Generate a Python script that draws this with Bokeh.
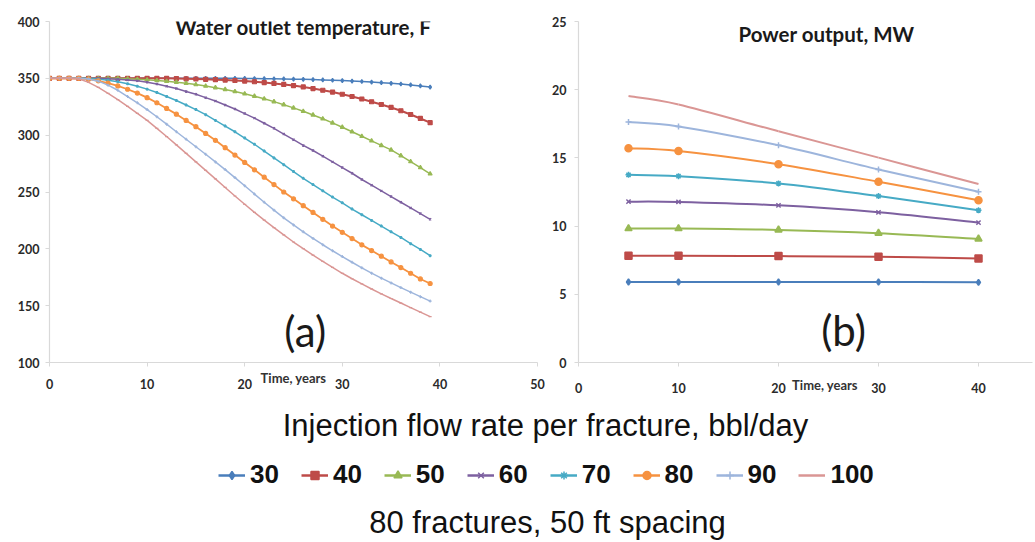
import numpy as np
from bokeh.plotting import figure
from bokeh.models import Range1d, FixedTicker, Label, Legend, LegendItem, ColumnDataSource
from bokeh.layouts import column, row
from bokeh.embed import file_html
from bokeh.resources import INLINE

# ---------------- data ----------------
flow_rates = ["30", "40", "50", "60", "70", "80", "90", "100"]

years = [0, 1, 2, 3, 4, 5, 6, 7, 8, 9, 10, 11, 12, 13, 14, 15, 16, 17, 18, 19,
         20, 21, 22, 23, 24, 25, 26, 27, 28, 29, 30, 31, 32, 33, 34, 35, 36, 37, 38, 39]

temp_30 = [350, 350, 350, 350, 350, 350, 350, 350, 350, 350,
           350, 350, 350, 350, 350, 350, 350, 350, 350, 350,
           349.9, 349.8, 349.7, 349.6, 349.5, 349.3, 349.1, 348.9, 348.6, 348.3,
           348.0, 347.6, 347.2, 346.7, 346.2, 345.6, 345.0, 344.2, 343.3, 342.3]
temp_40 = [350, 350, 350, 350, 350, 350, 350, 350, 350, 350,
           350, 350, 350, 349.8, 349.6, 349.4, 349.1, 348.8, 348.5, 348.1,
           347.6, 347.0, 346.3, 345.5, 344.6, 343.6, 342.4, 341.0, 339.5, 337.9,
           336.0, 334.0, 331.8, 329.4, 327.0, 324.4, 321.5, 318.2, 314.7, 311.0]
temp_50 = [350, 350, 350, 350, 350, 350, 350, 350, 349.6, 349.2,
           348.7, 348.1, 347.4, 346.6, 345.6, 344.5, 343.2, 341.8, 340.2, 338.4,
           336.4, 334.3, 332.0, 329.5, 326.8, 324.0, 321.0, 317.8, 314.4, 310.8,
           307.0, 303.0, 299.0, 295.0, 291.0, 287.0, 282.0, 276.8, 271.5, 266.0]
temp_60 = [350, 350, 350, 350, 350, 350, 349.6, 349.2, 348.6, 347.8,
           346.6, 345, 343, 341, 338.5, 336, 333, 330, 326.5, 323,
           319, 315, 310.5, 306, 301, 296, 291, 286.5, 281.5, 276.5,
           271.5, 266.5, 261, 256, 251, 246, 241, 236, 231, 226]
temp_70 = [350, 350, 350, 350, 350, 349.3, 348.3, 347, 345.2, 343,
           340.5, 337.5, 334, 330.5, 326.5, 322.5, 318, 313, 308, 303,
           297.5, 292, 286, 280, 274, 268, 262, 256.5, 251, 245.5,
           240.5, 235, 230, 225, 220, 215, 210, 204.5, 199.5, 194]
temp_80 = [350, 350, 350, 350, 349.3, 347.8, 345.8, 343.3, 340.4, 337,
           333, 328.5, 323.5, 318.5, 313, 307.5, 301.5, 295.5, 289, 282.5,
           276, 269.5, 263, 256.5, 250, 244, 238, 232, 226, 220,
           214.5, 209, 203.5, 198.5, 193.5, 188.5, 183.5, 178.5, 173.5, 169.5]
temp_90 = [350, 350, 350, 350, 349.5, 347.5, 344, 339.5, 334, 328.5,
           322.5, 316.2, 309.7, 303, 296.4, 289.8, 283.2, 276.5, 269.7, 262.7,
           255.5, 248.2, 241, 234, 227.3, 221, 215, 209.2, 203.6, 198.3,
           193.2, 188.2, 183.3, 178.6, 174.2, 170, 165.9, 161.9, 157.9, 154]
temp_100 = [350, 350, 350, 349.5, 346.5, 342, 336.8, 331.2, 325.3, 319.2,
            313, 306, 298.8, 291.5, 284, 276.5, 269, 261.5, 254, 246.5,
            239.2, 232.1, 225.2, 218.6, 212.2, 206, 200.1, 194.4, 188.9, 183.6,
            178.5, 173.7, 169.1, 164.7, 160.4, 156.3, 152.3, 148.3, 144.3, 140.3]

power_years = [5, 10, 20, 30, 40]
power_30 = [5.9, 5.9, 5.9, 5.9, 5.88]
power_40 = [7.82, 7.82, 7.8, 7.75, 7.63]
power_50 = [9.82, 9.82, 9.72, 9.48, 9.06]
power_60 = [11.79, 11.77, 11.52, 11.01, 10.26]
power_70 = [13.76, 13.66, 13.13, 12.2, 11.16]
power_80 = [15.71, 15.51, 14.54, 13.25, 11.89]
power_90 = [17.63, 17.31, 15.92, 14.15, 12.52]
power_100 = [19.53, 18.92, 16.95, 15.02, 13.08]

temp_ticks = [100, 150, 200, 250, 300, 350, 400]
temp_x_ticks = [0, 10, 20, 30, 40, 50]
power_ticks = [0, 5, 10, 15, 20, 25]
power_x_ticks = [0, 10, 20, 30, 40]

temps = [temp_30, temp_40, temp_50, temp_60, temp_70, temp_80, temp_90, temp_100]
powers = [power_30, power_40, power_50, power_60, power_70, power_80, power_90, power_100]

# ---------------- styles ----------------
colors = ["#4A7EBB", "#BE4B48", "#98B954", "#7D60A0", "#46AAC5", "#F69240", "#9DB5DC", "#DA9694"]
markers = ["diamond", "square", "triangle", "x", "asterisk", "circle", "cross", "dash"]
left_sizes = [4, 4, 4, 3, 3, 4, 3, 3]
right_sizes = [6, 7, 7, 6, 6, 7, 6, 0]
left_widths = [1.5, 2.0, 1.5, 1.5, 1.5, 1.8, 1.5, 1.5]

AXIS_COLOR = "#D9D9D9"
TICK_FONT = "Lato"


def style_axes(p, yticks, xticks, x_standoff, y_standoff):
    p.xaxis.ticker = FixedTicker(ticks=xticks)
    p.yaxis.ticker = FixedTicker(ticks=yticks)
    for ax in (p.xaxis, p.yaxis):
        ax.axis_line_color = AXIS_COLOR
        ax.axis_line_width = 1.2
        ax.major_tick_line_color = AXIS_COLOR
        ax.major_tick_out = 4
        ax.major_tick_in = 0
        ax.minor_tick_line_color = None
        ax.major_label_text_font = TICK_FONT
        ax.major_label_text_font_style = "bold"
        ax.major_label_text_font_size = "12.5px"
        ax.major_label_text_color = "#2a2a2a"
    p.xaxis.major_label_standoff = x_standoff
    p.yaxis.major_label_standoff = y_standoff
    p.xaxis.axis_label_text_font = "Lato"
    p.xaxis.axis_label_text_font_style = "bold"
    p.xaxis.axis_label_text_font_size = "13px"
    p.xaxis.axis_label_text_color = "#333333"
    p.xgrid.grid_line_color = None
    p.ygrid.grid_line_color = None
    p.outline_line_color = None


def smooth_segments(xs, ys):
    # cubic Bezier segments through the data points (spreadsheet-style smoothed line)
    n = len(xs)
    seg = dict(x0=[], y0=[], x1=[], y1=[], cx0=[], cy0=[], cx1=[], cy1=[])
    for i in range(n - 1):
        xa, ya = xs[max(i - 1, 0)], ys[max(i - 1, 0)]
        xb, yb = xs[i], ys[i]
        xc, yc = xs[i + 1], ys[i + 1]
        xd, yd = xs[min(i + 2, n - 1)], ys[min(i + 2, n - 1)]
        seg["x0"].append(xb); seg["y0"].append(yb)
        seg["x1"].append(xc); seg["y1"].append(yc)
        seg["cx0"].append(xb + (xc - xa) / 6.0); seg["cy0"].append(yb + (yc - ya) / 6.0)
        seg["cx1"].append(xc - (xd - xb) / 6.0); seg["cy1"].append(yc - (yd - yb) / 6.0)
    return seg


# ---------------- left chart: water outlet temperature ----------------
p1 = figure(width=545, height=400, x_range=Range1d(0, 50), y_range=Range1d(100, 400),
            output_backend="svg", toolbar_location=None,
            min_border_left=49, min_border_right=8, min_border_top=19, min_border_bottom=38)
style_axes(p1, temp_ticks, temp_x_ticks, 12, 6)
p1.xaxis.axis_label = "Time, years"
p1.xaxis.axis_label_standoff = -22
for i in range(8):
    p1.line(years, temps[i], color=colors[i], line_width=left_widths[i])
    p1.scatter(years, temps[i], marker=markers[i], size=left_sizes[i],
               color=colors[i], line_width=1.2)

p1.add_layout(Label(x=26.0, y=395, text="Water outlet temperature, F", text_align="center",
                    text_baseline="middle", text_font="Lato", text_font_style="bold",
                    text_font_size="20.5px", text_color="#1a1a1a"))
p1.add_layout(Label(x=26.2, y=128, text="(a)", text_align="center", text_baseline="middle",
                    text_font="Lato", text_font_size="42px", text_color="#1a1a1a"))

# ---------------- right chart: power output ----------------
p2 = figure(width=490, height=400, x_range=Range1d(0, 45.4), y_range=Range1d(0, 25),
            output_backend="svg", toolbar_location=None,
            min_border_left=33, min_border_right=3, min_border_top=21, min_border_bottom=37)
style_axes(p2, power_ticks, power_x_ticks, 16, 8)
p2.xaxis.axis_label = "\u2003\u2003\u2003\u2003Time, years"
p2.xaxis.axis_label_standoff = -19
for i in range(8):
    seg = smooth_segments(power_years, powers[i])
    p2.bezier(x0=seg["x0"], y0=seg["y0"], x1=seg["x1"], y1=seg["y1"],
              cx0=seg["cx0"], cy0=seg["cy0"], cx1=seg["cx1"], cy1=seg["cy1"],
              line_color=colors[i], line_width=2)
    if right_sizes[i] > 0:
        p2.scatter(power_years, powers[i], marker=markers[i], size=right_sizes[i],
                   color=colors[i], line_width=1.5)

p2.add_layout(Label(x=24.8, y=24.1, text="Power output, MW", text_align="center",
                    text_baseline="middle", text_font="Lato", text_font_style="bold",
                    text_font_size="20.5px", text_color="#1a1a1a"))
p2.add_layout(Label(x=26.5, y=2.4, text="(b)", text_align="center", text_baseline="middle",
                    text_font="Lato", text_font_size="42px", text_color="#1a1a1a"))

# ---------------- bottom: legend and captions ----------------
p3 = figure(width=1035, height=142, x_range=Range1d(0, 1035), y_range=Range1d(0, 142),
            output_backend="svg", toolbar_location=None, x_axis_type=None, y_axis_type=None,
            min_border_left=0, min_border_right=0, min_border_top=0, min_border_bottom=0)
p3.xgrid.grid_line_color = None
p3.ygrid.grid_line_color = None
p3.outline_line_color = None

items = []
for i in range(8):
    # placeholder sources (NaN -> nothing drawn in the plot, only the legend swatch)
    src = ColumnDataSource(data=dict(x=np.array([np.nan]), y=np.array([np.nan])))
    lr = p3.line("x", "y", source=src, color=colors[i], line_width=2.5)
    rs = [lr]
    if markers[i] != "dash":
        sr = p3.scatter("x", "y", source=src, marker=markers[i], size=8, color=colors[i], line_width=1.5)
        rs.append(sr)
    items.append(LegendItem(label=flow_rates[i], renderers=rs))

legend = Legend(items=items, orientation="horizontal", location=(218, 52),
                glyph_width=27, glyph_height=20, label_standoff=5, spacing=22, padding=4,
                label_text_font="Liberation Sans", label_text_font_style="bold",
                label_text_font_size="26px", label_text_color="#111111",
                border_line_color=None, background_fill_alpha=0)
p3.add_layout(legend)

p3.add_layout(Label(x=545, y=117, text="Injection flow rate per fracture, bbl/day", text_align="center",
                    text_baseline="middle", text_font="Liberation Sans",
                    text_font_size="31px", text_color="#111111"))
p3.add_layout(Label(x=547, y=20, text="80 fractures, 50 ft spacing", text_align="center",
                    text_baseline="middle", text_font="Liberation Sans",
                    text_font_size="31px", text_color="#111111"))

layout = column(row(p1, p2), p3)
with open("out.html", "w") as f:
    f.write(file_html(layout, INLINE))
